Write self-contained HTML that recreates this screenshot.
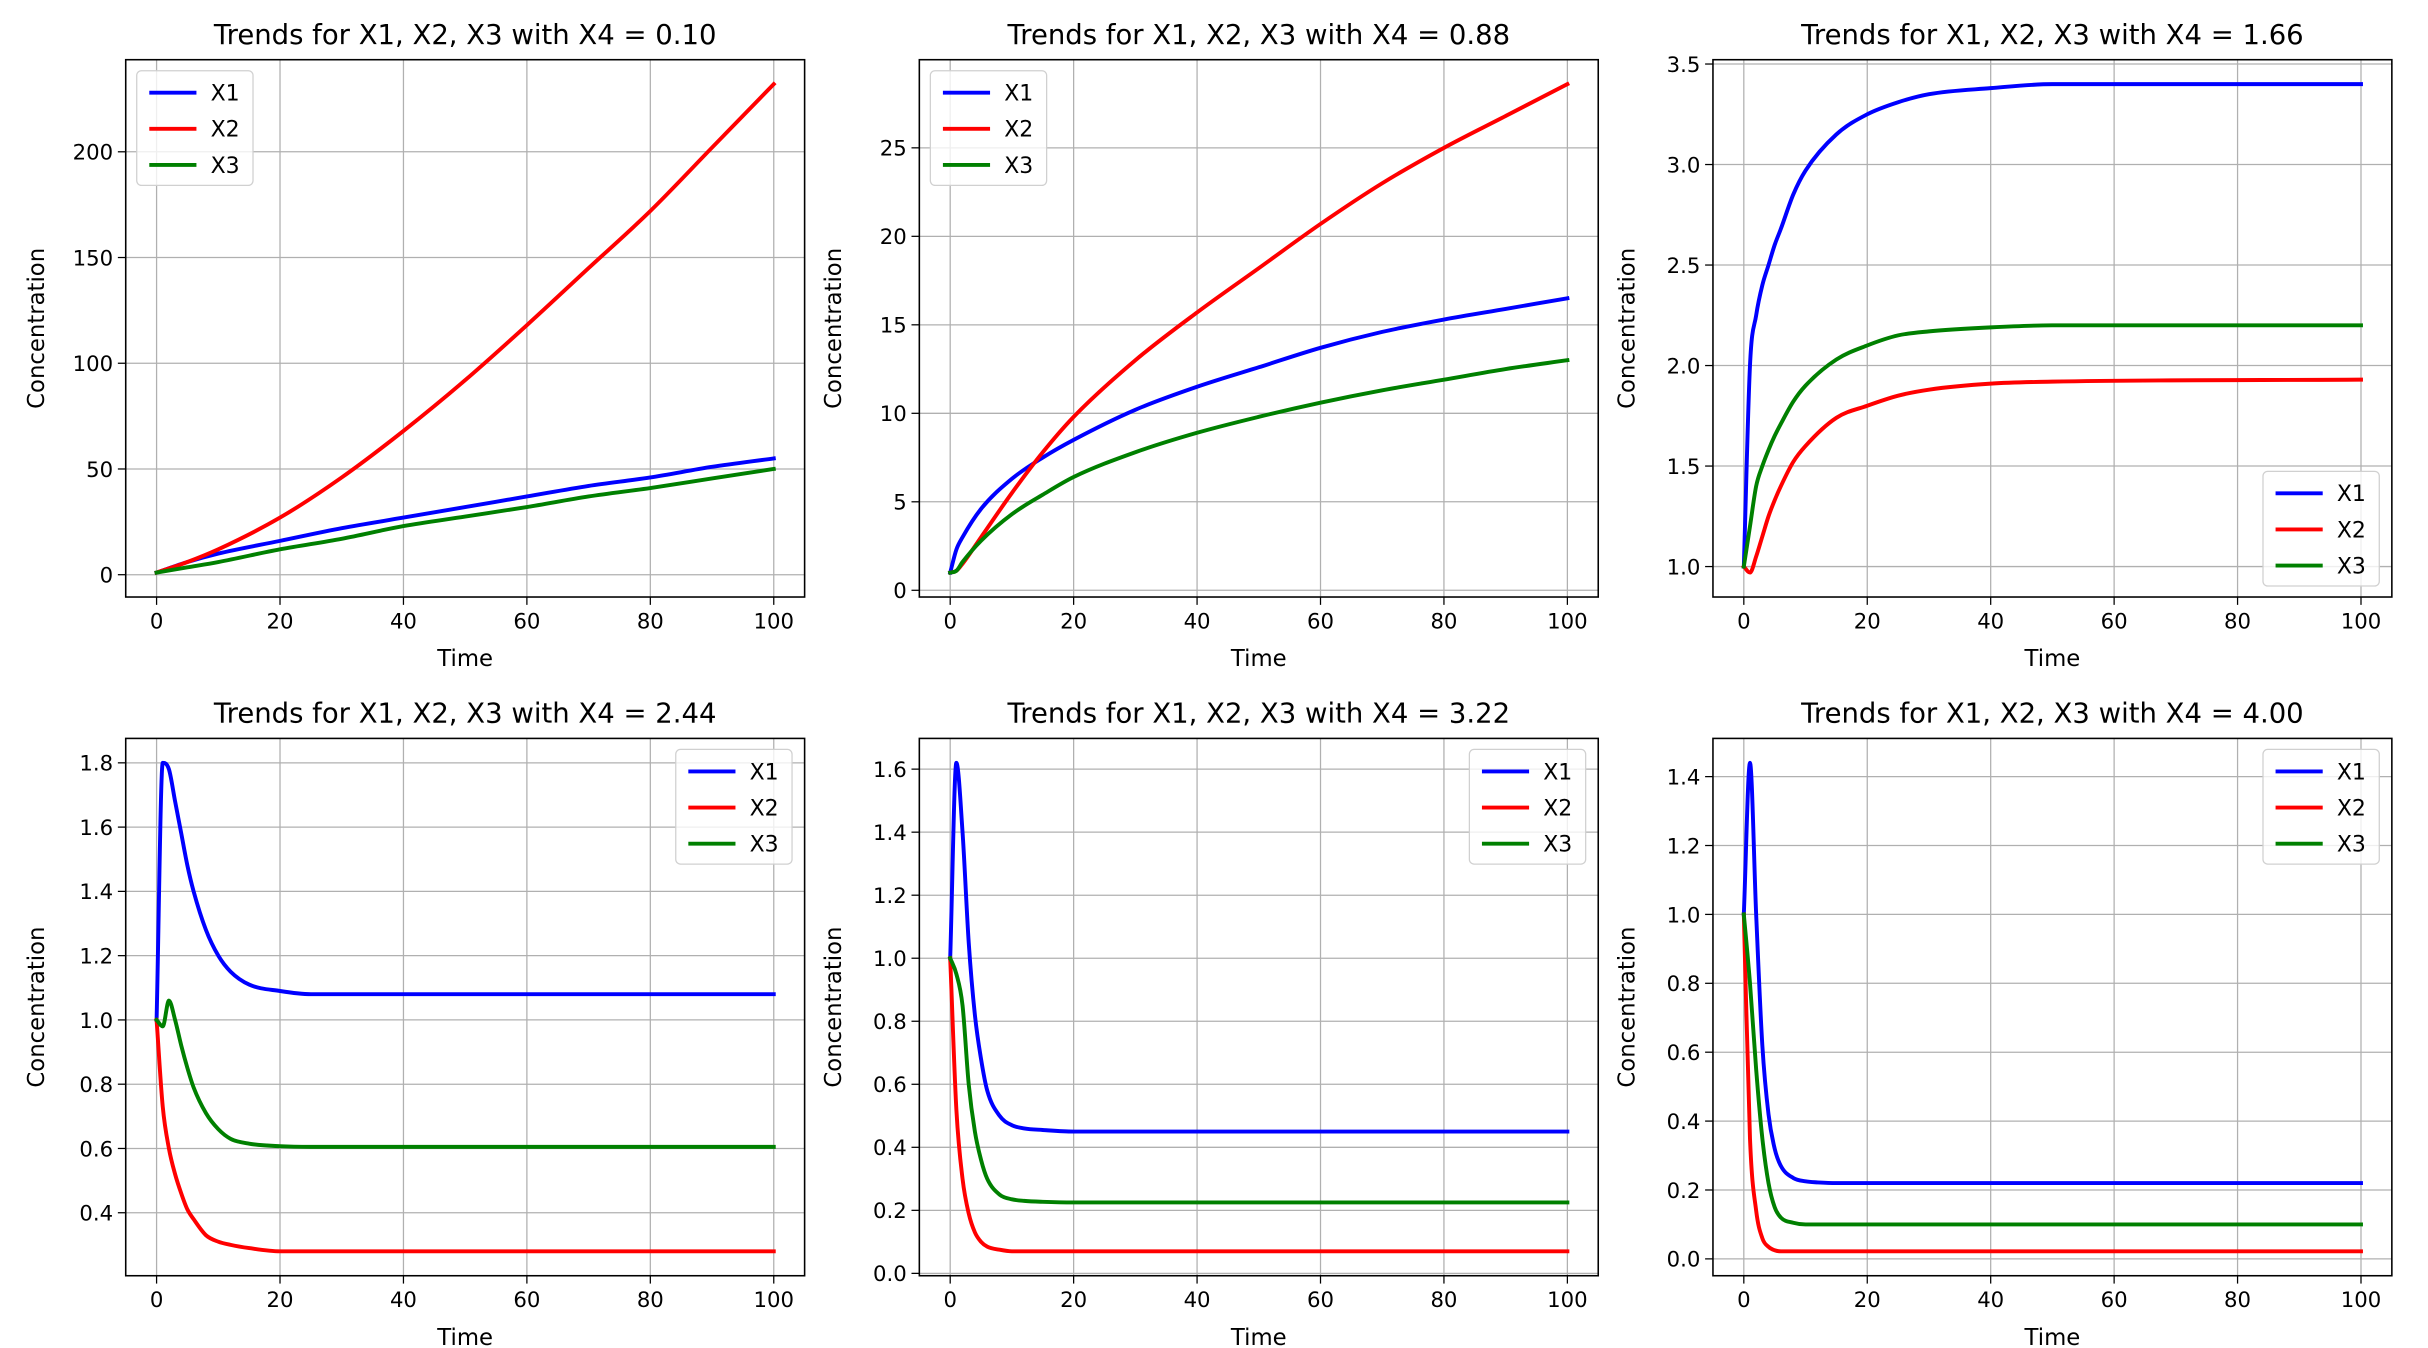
<!DOCTYPE html>
<html><head><meta charset="utf-8">
<style>
html,body{margin:0;padding:0;background:#fff;width:2428px;height:1348px;overflow:hidden}
svg{display:block}
text{font-family:"DejaVu Sans","Liberation Sans",sans-serif;fill:#000}
</style></head>
<body>
<svg id="fig" width="2428" height="1348" viewBox="0 0 1545 858" preserveAspectRatio="none" xmlns="http://www.w3.org/2000/svg"></svg>
<script>
// ---- data ----
const titles = ["0.10","0.88","1.66","2.44","3.22","4.00"];
const t1 = [0,5,10,20,30,40,50,60,70,80,90,100];
const p1x1 = [1,6,10,16,22,27,32,37,42,46,51,55];
const p1x2 = [1,6,12,27,46,68,92,118,145,172,202,232];
const p1x3 = [1,3.5,6,12,17,23,27.5,32,37,41,45.5,50];
const t2 = [0,1,2,5,10,15,20,30,40,50,60,70,80,90,100];
const p2x1 = [1,2.3,3,4.6,6.3,7.5,8.5,10.2,11.5,12.6,13.7,14.6,15.3,15.9,16.5];
const p2x2 = [1,1.1,1.5,3,5.5,7.8,9.8,13,15.7,18.2,20.7,23,25,26.8,28.6];
const p2x3 = [1,1.1,1.6,2.8,4.3,5.4,6.4,7.8,8.9,9.8,10.6,11.3,11.9,12.5,13];
const t3 = [0,1,2,3,4,5,6,8,10,15,20,25,30,40,50,100];
const p3x1 = [1,2,2.25,2.4,2.5,2.6,2.68,2.85,2.97,3.15,3.25,3.31,3.35,3.38,3.4,3.4];
const p3x2 = [1,0.97,1.05,1.15,1.25,1.33,1.4,1.52,1.6,1.74,1.8,1.85,1.88,1.91,1.92,1.93];
const p3x3 = [1,1.2,1.4,1.5,1.58,1.65,1.71,1.82,1.9,2.03,2.1,2.15,2.17,2.19,2.2,2.2];
const tS = [0,1,2,3,4,5,6,8,10,12,15,20,25,100];
const p4x1 = [1,1.8,1.78,1.68,1.58,1.48,1.4,1.28,1.2,1.15,1.11,1.09,1.08,1.08];
const p4x2 = [1,0.73,0.6,0.52,0.46,0.41,0.38,0.33,0.31,0.3,0.29,0.28,0.28,0.28];
const p4x3 = [1,0.98,1.06,1.0,0.92,0.85,0.79,0.71,0.66,0.63,0.615,0.607,0.605,0.605];
const p5x1 = [1,1.62,1.4,1.05,0.82,0.68,0.58,0.5,0.47,0.46,0.455,0.45,0.45,0.45];
const p5x2 = [1,0.52,0.3,0.19,0.13,0.1,0.085,0.075,0.07,0.07,0.07,0.07,0.07,0.07];
const p5x3 = [1,0.95,0.85,0.6,0.45,0.36,0.3,0.25,0.235,0.23,0.227,0.225,0.225,0.225];
const p6x1 = [1,1.44,1.0,0.62,0.42,0.32,0.27,0.235,0.225,0.222,0.22,0.22,0.22,0.22];
const p6x2 = [1,0.35,0.14,0.06,0.035,0.025,0.022,0.022,0.022,0.022,0.022,0.022,0.022,0.022];
const p6x3 = [1,0.8,0.55,0.35,0.22,0.15,0.12,0.105,0.1,0.1,0.1,0.1,0.1,0.1];
const xTicks = [0,20,40,60,80,100];
const yTicks1 = [0,50,100,150,200];
const yTicks2 = [0,5,10,15,20,25];
const yTicks3 = [1.0,1.5,2.0,2.5,3.0,3.5];
const yTicks4 = [0.4,0.6,0.8,1.0,1.2,1.4,1.6,1.8];
const yTicks5 = [0.0,0.2,0.4,0.6,0.8,1.0,1.2,1.4,1.6];
const yTicks6 = [0.0,0.2,0.4,0.6,0.8,1.0,1.2,1.4];
const seriesNames = ["X1","X2","X3"];
const colors = ["#0000ff","#ff0000","#008000"];

const panels = [
 {t:t1, s:[p1x1,p1x2,p1x3], yt:yTicks1, dec:0, leg:"ul"},
 {t:t2, s:[p2x1,p2x2,p2x3], yt:yTicks2, dec:0, leg:"ul"},
 {t:t3, s:[p3x1,p3x2,p3x3], yt:yTicks3, dec:1, leg:"lr"},
 {t:tS, s:[p4x1,p4x2,p4x3], yt:yTicks4, dec:1, leg:"ur"},
 {t:tS, s:[p5x1,p5x2,p5x3], yt:yTicks5, dec:1, leg:"ur"},
 {t:tS, s:[p6x1,p6x2,p6x3], yt:yTicks6, dec:1, leg:"ur"},
];

const NS="http://www.w3.org/2000/svg";
const fig=document.getElementById('fig');
function mk(tag,attrs,parent){const e=document.createElementNS(NS,tag);for(const k in attrs)e.setAttribute(k,attrs[k]);(parent||fig).appendChild(e);return e;}

// monotone cubic path (Fritsch-Carlson) through screen points
function smoothPath(xs,ys){
  const n=xs.length, d=[], m=[];
  for(let i=0;i<n-1;i++) d.push((ys[i+1]-ys[i])/(xs[i+1]-xs[i]));
  m[0]=d[0]; m[n-1]=d[n-2];
  for(let i=1;i<n-1;i++){ m[i]=(d[i-1]*d[i]<=0)?0:(d[i-1]+d[i])/2; }
  for(let i=0;i<n-1;i++){
    if(d[i]===0){m[i]=0;m[i+1]=0;continue;}
    const a=m[i]/d[i], b=m[i+1]/d[i], s=a*a+b*b;
    if(s>9){const t=3/Math.sqrt(s); m[i]=t*a*d[i]; m[i+1]=t*b*d[i];}
  }
  let p='M'+xs[0].toFixed(2)+','+ys[0].toFixed(2);
  for(let i=0;i<n-1;i++){
    const h=(xs[i+1]-xs[i])/3;
    p+=' C'+(xs[i]+h).toFixed(2)+','+(ys[i]+m[i]*h).toFixed(2)+' '+(xs[i+1]-h).toFixed(2)+','+(ys[i+1]-m[i+1]*h).toFixed(2)+' '+xs[i+1].toFixed(2)+','+ys[i+1].toFixed(2);
  }
  return p;
}

const colL=[80,585,1090], rowT=[38,470], W=432, H=342;
panels.forEach((p,i)=>{
  const L=colL[i%3], T=rowT[Math.floor(i/3)];
  const g=mk('g',{});
  
  
  let all=[];p.s.forEach(a=>all=all.concat(a));
  const mn=Math.min(...all), mx=Math.max(...all), r=mx-mn;
  const y0=mn-0.05*r, y1=mx+0.05*r;
  const X=v=>L+(v+5)/110*W;
  const Y=v=>T+H-(v-y0)/(y1-y0)*H;
  xTicks.forEach(v=>{
    const l=mk('line',{x1:X(v),x2:X(v),y1:T,y2:T+H,stroke:'#b0b0b0','stroke-width':0.8},g);
    
    
    mk('line',{x1:X(v),x2:X(v),y1:T+H,y2:T+H+5,stroke:'#000','stroke-width':0.8},g);
    const tx=mk('text',{x:X(v),y:T+H+20,'font-size':13.5,'text-anchor':'middle'},g);
    tx.textContent=v;
    
    
  });
  p.yt.forEach(v=>{
    const l=mk('line',{x1:L,x2:L+W,y1:Y(v),y2:Y(v),stroke:'#b0b0b0','stroke-width':0.8},g);
    
    
    mk('line',{x1:L-5,x2:L,y1:Y(v),y2:Y(v),stroke:'#000','stroke-width':0.8},g);
    const tx=mk('text',{x:L-8,y:Y(v)+5,'font-size':13.5,'text-anchor':'end'},g);
    tx.textContent=v.toFixed(p.dec);
    
    
  });
  p.s.forEach((arr,k)=>{
    const xs=p.t.map(v=>X(v)), ys=arr.map(v=>Y(v));
    const pl=mk('path',{d:smoothPath(xs,ys),fill:'none',stroke:colors[k],'stroke-width':2.5,'stroke-linejoin':'round','stroke-linecap':'square'},g);
    
    
  });
  const fr=mk('rect',{x:L,y:T,width:W,height:H,fill:'none',stroke:'#000','stroke-width':1},g);
  
  
  const ti=mk('text',{x:L+W/2,y:T-10,'font-size':17.5,'text-anchor':'middle'},g);
  ti.textContent='Trends for X1, X2, X3 with X4 = '+titles[i];
  
  
  const xl=mk('text',{x:L+W/2,y:T+H+44,'font-size':14.5,'text-anchor':'middle'},g);
  xl.textContent='Time';
  
  
  const yx=L-(i%3===0?52:50), yy=T+H/2;
  const yl=mk('text',{x:yx,y:yy,'font-size':14.5,'text-anchor':'middle',transform:'rotate(-90 '+yx+' '+yy+')'},g);
  yl.textContent='Concentration';
  
  
  let lx,ly;
  if(p.leg==='ul'){lx=L+7;ly=T+7;}
  else if(p.leg==='ur'){lx=L+W-82;ly=T+7;}
  else {lx=L+W-82;ly=T+H-80;}
  const lg=mk('g',{},g);
  
  
  mk('rect',{x:lx,y:ly,width:74,height:73,rx:3,fill:'#fff','fill-opacity':0.8,stroke:'#d0d0d0','stroke-width':0.8},lg);
  seriesNames.forEach((n,k)=>{
    const e=mk('g',{},lg);
    
    
    const cy=ly+14+k*23;
    mk('line',{x1:lx+8,x2:lx+38,y1:cy,y2:cy,stroke:colors[k],'stroke-width':2.5},e);
    const tx=mk('text',{x:lx+47,y:cy+5,'font-size':14},e);
    tx.textContent=n;
  });
});
</script>
</body></html>
